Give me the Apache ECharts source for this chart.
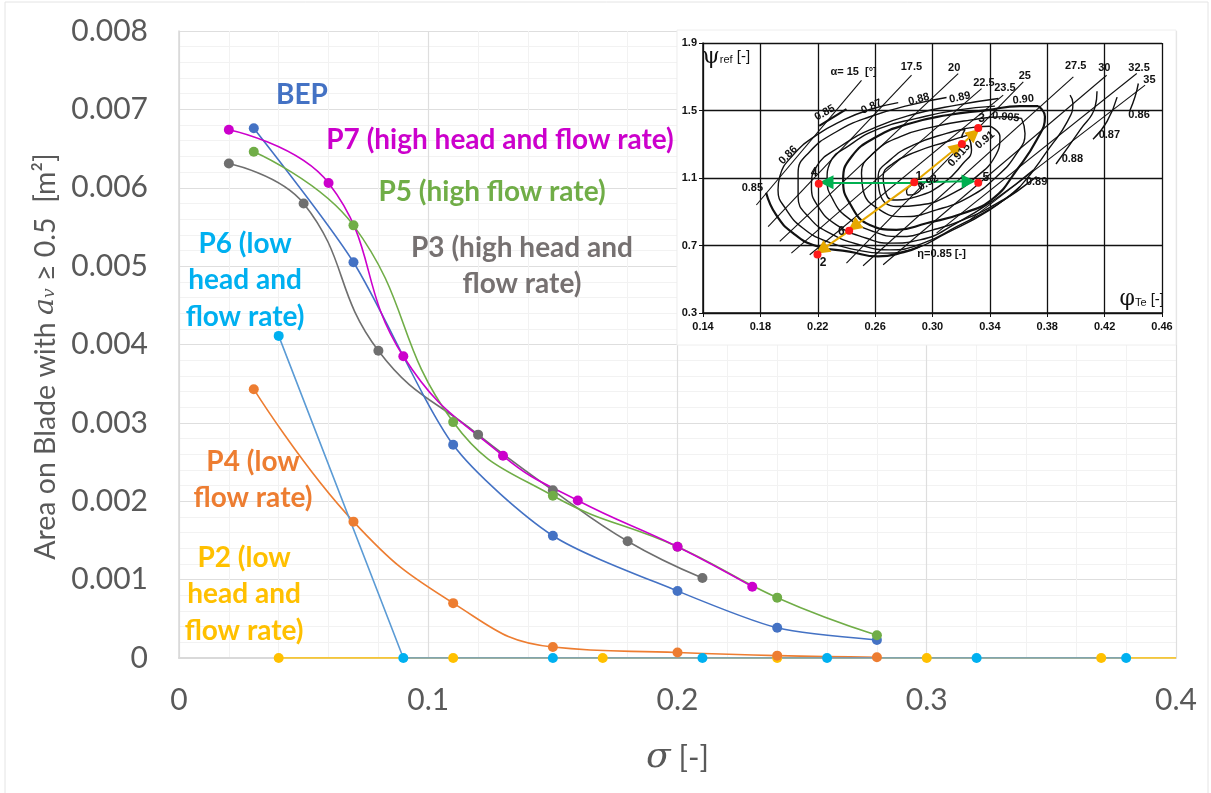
<!DOCTYPE html>
<html><head><meta charset="utf-8">
<style>html,body{margin:0;padding:0;background:#fff}#c{width:1211px;height:793px}</style>
<script src="https://cdn.jsdelivr.net/npm/echarts@6/dist/echarts.min.js"></script>
</head><body><div id="c"></div>
<script>
// ---- main chart data: [sigma, area] ----
const BEP = [[0.03,0.00676],[0.07,0.00505],[0.11,0.00272],[0.15,0.00156],[0.20,0.000855],[0.24,0.000385],[0.28,0.00023]];
const P7 = [[0.02,0.00674],[0.06,0.00606],[0.09,0.00385],[0.13,0.00258],[0.16,0.00201],[0.20,0.00142],[0.23,0.00091]];
const P5 = [[0.03,0.00646],[0.07,0.00552],[0.11,0.00301],[0.15,0.00207],[0.20,0.00142],[0.24,0.00077],[0.28,0.00029]];
const P3 = [[0.02,0.00631],[0.05,0.0058],[0.08,0.00392],[0.12,0.00285],[0.15,0.00214],[0.18,0.00149],[0.21,0.00102]];
const P6 = [[0.04,0.00411],[0.09,0],[0.15,0],[0.21,0],[0.26,0],[0.32,0],[0.38,0]];
const P4 = [[0.03,0.00343],[0.07,0.00174],[0.11,0.0007],[0.15,0.00014],[0.20,0.00007],[0.24,0.00003],[0.28,0.00001]];
const P2 = [[0.04,0],[0.11,0],[0.17,0],[0.24,0],[0.30,0],[0.37,0]];
const P2_tail = [[0.37,0],[0.40,0]];
const annotations = [
  ['BEP',0.0493,0.00719,'#4472c4'],
  ['P7 (high head and flow rate)',0.1288,0.00661,'#cc00cc'],
  ['P5 (high flow rate)',0.1256,0.00594,'#70ad47'],
  ['P3 (high head and\nflow rate)',0.1376,0.0050,'#767171'],
  ['P6 (low\nhead and\nflow rate)',0.0265,0.00482,'#00b0f0'],
  ['P4 (low\nflow rate)',0.0297,0.00227,'#ed7d31'],
  ['P2 (low\nhead and\nflow rate)',0.0261,0.000816,'#ffc000']
];
// ---- inset: efficiency map, [phi, psi] ----
const contour86 = [[.2761,1.547],[.2563,1.506],[.2377,1.443],[.2191,1.354],[.2028,1.236],[.1935,1.108],[.1923,1.029],[.1982,.911],[.2098,.802],[.2261,.724],[.2470,.674],[.2656,.655],[.2842,.674],[.3098,.773],[.3400,.911],[.3610,1.049]];
const contour87 = [[.3098,1.577],[.2842,1.532],[.2563,1.463],[.2330,1.374],[.2144,1.256],[.2063,1.128],[.2063,.990],[.2144,.862],[.2284,.773],[.2493,.704],[.2702,.674],[.2935,.714],[.3168,.812],[.3447,.940],[.3726,1.108]];
const contour88 = [[.3459,1.571],[.3168,1.532],[.2889,1.482],[.2610,1.403],[.2354,1.285],[.2191,1.167],[.2156,1.049],[.2203,.931],[.2330,.822],[.2540,.743],[.2702,.714],[.2912,.733],[.3168,.832],[.3447,.980],[.3703,1.147]];
const contour89 = [[.3435,1.526],[.3168,1.502],[.2889,1.453],[.2633,1.394],[.2423,1.295],[.2284,1.187],[.2265,1.088],[.2307,.970],[.2400,.871],[.2586,.783],[.2772,.753],[.3005,.793],[.3214,.852],[.3470,.960],[.3610,1.049],[.3819,1.283],[.3938,1.431],[.3979,1.543],[.3959,1.591]];
const contour90 = [[.3738,1.526],[.3784,1.463],[.3726,1.325],[.3587,1.147],[.3424,.980],[.3214,.891],[.2958,.832],[.2749,.793],[.2563,.822],[.2423,.950],[.2377,1.088],[.2435,1.226],[.2610,1.344],[.2842,1.423],[.3098,1.472],[.3377,1.502],[.3610,1.526],[.3738,1.526]];
const contour905 = [[.3621,1.453],[.3645,1.364],[.3587,1.246],[.3447,1.108],[.3261,.990],[.3028,.911],[.2796,.871],[.2633,.911],[.2516,1.029],[.2505,1.128],[.2586,1.246],[.2772,1.344],[.3005,1.403],[.3261,1.443],[.3494,1.463],[.3621,1.453]];
const contour91 = [[.3400,1.407],[.3470,1.344],[.3435,1.226],[.3307,1.108],[.3121,1.000],[.2912,.940],[.2749,.931],[.2633,1.009],[.2621,1.108],[.2703,1.206],[.2865,1.295],[.3098,1.364],[.3307,1.403],[.3400,1.407]];
const contour915 = [[.3249,1.354],[.3272,1.266],[.3214,1.187],[.3075,1.068],[.2889,.990],[.2726,.970],[.2668,1.029],[.2656,1.108],[.2726,1.187],[.2889,1.256],[.3098,1.315],[.3249,1.354]];
const contour92 = [[.2819,1.029],[.2854,1.059],[.2900,1.069],[.2924,1.049],[.2877,1.005],[.2831,.999],[.2819,1.029]];
const contour85low = [[.184,1.013],[.191,.881],[.203,.772],[.219,.697],[.242,.664],[.262,.635],[.280,.660],[.291,.694]];
const contour85top = [[.221,1.409],[.240,1.508]];
const frag86 = [[.4435,1.660],[.4412,1.581],[.4377,1.502]];
const frag87 = [[.4287,1.579],[.4217,1.435],[.4119,1.329]];
const frag88 = [[.4147,1.614],[.4133,1.520],[.4028,1.384],[.3861,1.183]];
const alphaLines = [
  [[.2505,1.679],[.1772,.940]],[[.2854,1.709],[.1854,.812]],[[.3179,1.719],[.1935,.724]],
  [[.3342,1.630],[.2016,.655]],[[.3493,1.591],[.2144,.645]],[[.3633,1.669],[.2400,.596]],
  [[.3982,1.699],[.2516,.580]],[[.4214,1.709],[.2656,.586]],[[.4424,1.719],[.3028,.773]],[[.4482,1.650],[.3261,.852]]
];
const opPoints = [[.2873,1.0744],[.2198,.6468],[.3319,1.3956],[.2207,1.0665],[.3319,1.0724],[.2419,.7867],[.3205,1.301]];
const greenArrows = [[[.2873,1.0744],[.2261,1.0744]],[[.2873,1.0744],[.3252,1.0803]]];
const yellowArrows = [[[.2873,1.0744],[.2451,.812]],[[.2419,.7867],[.2227,.674]],[[.2873,1.0744],[.3172,1.281]],[[.3205,1.301],[.3291,1.364]]];
const insetLabels = [
  ['α= 15  [°]',.2450,1.728,0,11],['17.5',.2853,1.758,0,11],['20',.3151,1.754,0,11],['22.5',.3358,1.665,0,11],
  ['23.5',.3505,1.636,0,11],['25',.3644,1.705,0,11],['27.5',.3998,1.764,0,11],['30',.4198,1.754,0,11],
  ['32.5',.4440,1.754,0,11],['35',.4512,1.679,0,11],
  ['0.85',.2249,1.486,30,11],['0.87',.2575,1.522,25,11],['0.88',.2905,1.567,15,11],['0.89',.3191,1.577,12,11],
  ['0.90',.3633,1.565,6,11],['0.905',.3511,1.462,-6,11],['0.86',.1993,1.236,45,11],['0.85',.1744,1.039,0,11],
  ['0.91',.3366,1.325,40,11],['0.915',.3186,1.236,48,11],['0.92',.2970,1.072,30,11],['0.89',.3726,1.074,0,11],
  ['0.88',.3975,1.210,0,11],['0.87',.4233,1.354,0,11],['0.86',.4440,1.472,0,11],
  ['η=0.85 [-]',.3063,.651,0,11],
  ['{g|ψ}{s|ref} {g2|[-]}',.1563,1.817,0,15],['{g|φ}{s|Te} {g2|[-]}',.4459,.379,0,15],
  ['1',.2904,1.107,0,12],['2',.2237,.601,0,12],['3',.3342,1.449,0,12],['4',.2174,1.131,0,12],
  ['5',.3372,1.104,0,12],['6',.2365,.783,0,12],['7',.3210,1.354,0,12]
];

const axisColor = '#595959';
const fontF = 'Lato, Carlito, "Noto Sans", sans-serif';
const narrow = '"Liberation Sans Narrow", "Liberation Sans", sans-serif';
const mainLine = (name,data,color,marker,extra) => Object.assign({
  type:'line',name,data,xAxisIndex:0,yAxisIndex:0,z:5,smooth:0.45,symbol:'circle',symbolSize:10,showSymbol:true,
  lineStyle:{color,width:1.6},itemStyle:{color:marker||color},silent:true
},extra||{});
const insetLine = (data,width,smooth) => ({
  type:'line',data,xAxisIndex:1,yAxisIndex:1,z:3,smooth:smooth===false?false:0.5,showSymbol:false,symbol:'none',
  lineStyle:{color:'#111',width},silent:true
});
const arrows = (list,color) => ({
  type:'lines',coordinateSystem:'cartesian2d',xAxisIndex:1,yAxisIndex:1,z:4,silent:true,
  symbol:['none','triangle'],symbolSize:14,
  lineStyle:{color,width:2,opacity:1,curveness:0},
  data:list.map(c=>({coords:c}))
});

const series = [
  ...[contour86,contour87,contour88,contour89,contour905,contour91,contour915,contour92,frag86,frag87,frag88].map(d=>insetLine(d,1.4)),
  insetLine(contour90,2.2),insetLine(contour85low,2.2),insetLine(contour85top,2.2,false),
  ...alphaLines.map(d=>insetLine(d,1.1,false)),
  arrows(greenArrows,'#00b050'),arrows(yellowArrows,'#e6a800'),
  {type:'scatter',data:opPoints,xAxisIndex:1,yAxisIndex:1,z:6,symbolSize:8,itemStyle:{color:'#ff1a1a',opacity:1},silent:true},
  {type:'scatter',xAxisIndex:1,yAxisIndex:1,z:5,symbolSize:0,silent:true,itemStyle:{opacity:1},
   data:insetLabels.map(l=>({value:[l[1],l[2]],label:{formatter:l[0],rotate:l[3],fontSize:l[4]}})),
   label:{show:true,position:'inside',opacity:1,color:'#111',fontFamily:narrow,fontWeight:'bold',
     rich:{g:{fontSize:22,fontWeight:'normal',fontFamily:'"DejaVu Serif", serif',color:'#111'},g2:{fontSize:15,fontWeight:'normal',fontFamily:narrow,color:'#111'},s:{fontSize:11,fontWeight:'normal',fontFamily:narrow,color:'#111',padding:[6,0,0,0]}}}},
  mainLine('P2',P2,'#ffc000'),
  mainLine('P2 tail',P2_tail,'#ffc000',null,{symbol:'none',showSymbol:false}),
  mainLine('P4',P4,'#ed7d31'),
  mainLine('P6',P6,'#5b9bd5','#00b0f0',{smooth:false}),
  mainLine('P3',P3,'#6f6f6f'),
  mainLine('BEP',BEP,'#4472c4',null,{smooth:0.25}),
  mainLine('P5',P5,'#70ad47'),
  mainLine('P7',P7,'#cc00cc'),
  {type:'scatter',xAxisIndex:0,yAxisIndex:0,z:7,symbolSize:0,silent:true,itemStyle:{opacity:1},
   data:annotations.map(a=>({value:[a[1],a[2]],label:{formatter:a[0],color:a[3]}})),
   label:{show:true,position:'inside',opacity:1,fontFamily:fontF,fontWeight:'bold',fontSize:28,lineHeight:36.5,align:'center'}}
];

const chart = echarts.init(document.getElementById('c'),null,{renderer:'canvas'});
chart.setOption({
  animation:false,backgroundColor:'#fff',
  graphic:[
    {type:'rect',silent:true,z:-1,shape:{x:5,y:2,width:1203,height:800},style:{fill:'#fff',stroke:'#e4e4e4',lineWidth:1}},
    {type:'rect',silent:true,z:1,shape:{x:677,y:30,width:499,height:315},style:{fill:'#fff',stroke:'#eeeeee',lineWidth:1}}
  ],
  grid:[
    {left:179,right:35,top:31,bottom:135,containLabel:false},
    {left:703,right:49,top:43,bottom:480,containLabel:false}
  ],
  xAxis:[
    {type:'value',gridIndex:0,min:0,max:0.4,interval:0.1,
     axisLine:{show:true,onZero:false,lineStyle:{color:'#d9d9d9',width:2}},axisTick:{show:false},
     axisLabel:{color:axisColor,fontSize:30,fontFamily:fontF,margin:27},
     splitLine:{show:true,lineStyle:{color:'#dedede',width:1.2}},
     minorTick:{show:false,splitNumber:5},minorSplitLine:{show:true,lineStyle:{color:'#f2f2f2',width:1}},
     name:'{i|σ}{n| [-]}',nameLocation:'middle',nameGap:82,
     nameTextStyle:{rich:{i:{fontSize:36,fontStyle:'italic',fontFamily:'"DejaVu Serif", serif',color:axisColor},n:{fontSize:31,fontFamily:fontF,color:axisColor}}}},
    {type:'value',gridIndex:1,min:0.14,max:0.46,interval:0.04,z:2,
     axisLine:{show:true,onZero:false,lineStyle:{color:'#111',width:1.5}},axisTick:{show:true,length:4,lineStyle:{color:'#111'}},
     axisLabel:{color:'#111',fontSize:11,fontWeight:'bold',fontFamily:narrow,margin:8,showMinLabel:true,showMaxLabel:true,
       formatter:v=>v.toFixed(2)},
     splitLine:{show:true,lineStyle:{color:'#111',width:1.3}}}
  ],
  yAxis:[
    {type:'value',gridIndex:0,min:0,max:0.008,interval:0.001,
     axisLine:{show:true,onZero:false,lineStyle:{color:'#d9d9d9',width:1.5}},axisTick:{show:false},
     axisLabel:{color:axisColor,fontSize:30,fontFamily:fontF,margin:31},
     splitLine:{show:true,lineStyle:{color:'#dedede',width:1.2}},
     minorTick:{show:false,splitNumber:5},minorSplitLine:{show:true,lineStyle:{color:'#f2f2f2',width:1}},
     name:'{n|Area on Blade with }{i|a}{s|v}{e| ≥ 0.5  [m²]}',nameLocation:'middle',nameGap:111,nameRotate:90,
     nameTextStyle:{rich:{n:{fontSize:28.5,fontFamily:fontF,color:axisColor},e:{fontSize:28.5,fontFamily:fontF,color:axisColor,padding:[0,24,0,0]},i:{fontSize:28.5,fontStyle:'italic',fontFamily:'"DejaVu Serif", serif',color:axisColor},s:{fontSize:17,fontStyle:'italic',fontFamily:'"DejaVu Serif", serif',color:axisColor,padding:[8,0,0,0]}}}},
    {type:'value',gridIndex:1,min:0.3,max:1.9,interval:0.4,z:2,
     axisLine:{show:true,onZero:false,lineStyle:{color:'#111',width:1.5}},axisTick:{show:true,length:4,lineStyle:{color:'#111'}},
     axisLabel:{color:'#111',fontSize:11,fontWeight:'bold',fontFamily:narrow,margin:6,formatter:v=>v.toFixed(1)},
     splitLine:{show:true,lineStyle:{color:'#111',width:1.3}}}
  ],
  series
});
</script></body></html>
